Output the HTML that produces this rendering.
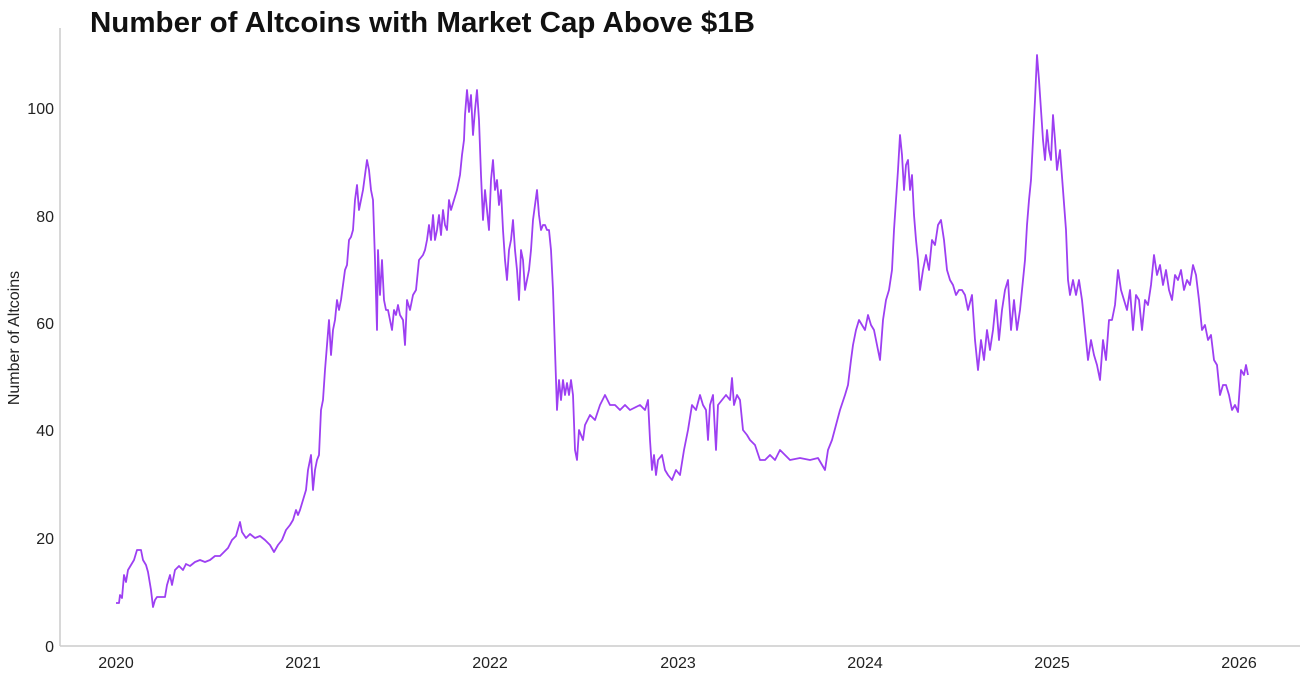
<!DOCTYPE html>
<html><head><meta charset="utf-8"><style>
html,body{margin:0;padding:0;background:#fff;width:1310px;height:675px;overflow:hidden}
svg{display:block;font-family:"Liberation Sans",sans-serif}
</style></head><body>
<svg width="1310" height="675" viewBox="0 0 1310 675">
<text x="90" y="32" font-size="29" font-weight="bold" fill="#111" textLength="665" lengthAdjust="spacingAndGlyphs">Number of Altcoins with Market Cap Above $1B</text>
<line x1="60" y1="28" x2="60" y2="646" stroke="#ccc" stroke-width="1.5"/>
<line x1="60" y1="646" x2="1300" y2="646" stroke="#ccc" stroke-width="1.5"/>
<g font-size="16" fill="#222" text-anchor="end">
<text x="54" y="652">0</text><text x="54" y="544">20</text><text x="54" y="436">40</text>
<text x="54" y="329">60</text><text x="54" y="222">80</text><text x="54" y="114">100</text>
</g>
<g font-size="16" fill="#222" text-anchor="middle">
<text x="116" y="668">2020</text><text x="303" y="668">2021</text><text x="490" y="668">2022</text>
<text x="678" y="668">2023</text><text x="865" y="668">2024</text><text x="1052" y="668">2025</text><text x="1239" y="668">2026</text>
</g>
<text transform="translate(19,338) rotate(-90)" font-size="16" fill="#222" text-anchor="middle">Number of Altcoins</text>
<polyline fill="none" stroke="#9d3ff2" stroke-width="1.8" stroke-linejoin="round" points="
116,603 119,603 120,595 122,598 124,575 126,582 128,570 131,565 134,560 137,550 141,550 143,560 146,565 148,572 151,590 153,607 155,600 157,597 160,597 165,597 167,585 170,575 172,585 175,570 179,566 183,570 186,564 190,566 195,562 200,560 205,562 210,560 215,556 220,556 228,548 232,540 236,536 240,522 242,532 246,538 250,534 255,538 260,536 265,540 270,545 274,552 278,545 282,540 286,530 290,525 293,520 296,510 298,515 300,510 303,500 306,490 308,470 311,455 313,490 315,470 317,460 319,455 321,410 323,400 325,370 327,345 329,320 331,355 333,330 335,320 337,300 339,310 341,300 343,285 345,270 347,265 349,240 351,237 353,230 355,200 357,185 359,210 361,200 363,190 365,175 367,160 369,170 371,190 373,200 375,260 377,330 378,250 380,295 382,260 384,300 386,310 388,310 390,320 392,330 394,310 396,315 398,305 400,315 403,320 405,345 407,300 410,310 413,295 416,290 419,260 423,255 425,250 427,240 429,225 431,240 433,215 435,240 437,230 439,215 441,235 443,210 445,225 447,230 449,200 451,210 454,200 457,190 460,175 462,155 464,140 465,115 467,90 469,112 471,95 473,135 475,110 477,90 479,120 481,175 483,220 485,190 487,210 489,230 491,180 493,160 495,190 497,180 499,205 501,190 503,230 505,260 507,280 509,250 511,240 513,220 515,250 517,270 519,300 521,250 523,260 525,290 527,280 529,270 531,250 533,220 535,205 537,190 539,215 541,230 543,225 545,225 547,230 549,230 551,250 553,290 555,350 557,410 559,380 561,400 563,380 565,395 567,383 569,395 571,380 573,395 575,450 577,460 579,430 583,440 585,425 590,415 595,420 600,405 605,395 610,405 615,405 620,410 625,405 630,410 640,405 645,410 648,400 650,440 652,470 654,455 656,475 658,460 662,455 665,470 668,475 672,480 676,470 680,475 684,450 688,430 692,405 696,410 700,395 703,405 706,410 708,440 710,405 713,395 716,450 718,405 722,400 726,395 730,400 732,378 734,405 737,395 740,400 743,430 747,435 750,440 755,445 760,460 765,460 770,455 775,460 780,450 785,455 790,460 800,458 810,460 818,458 825,470 828,450 832,440 836,425 840,410 845,395 848,385 851,360 853,345 856,330 859,320 862,325 865,330 868,315 871,325 874,330 877,345 880,360 883,320 886,300 889,290 892,270 894,230 896,200 898,170 900,135 902,155 904,190 906,165 908,160 910,190 912,175 914,215 916,240 918,260 920,290 923,270 926,255 929,270 932,240 935,245 938,225 941,220 944,240 947,270 950,280 953,285 956,295 959,290 962,290 965,295 968,310 972,295 975,340 978,370 981,340 984,360 987,330 990,350 993,330 996,300 999,340 1002,310 1005,290 1008,280 1011,330 1014,300 1017,330 1020,310 1023,280 1025,260 1027,225 1029,200 1031,180 1033,140 1035,100 1037,55 1039,80 1041,110 1043,140 1045,160 1047,130 1049,150 1051,160 1053,115 1055,140 1057,170 1060,150 1063,190 1066,230 1068,280 1070,295 1073,280 1076,295 1079,280 1082,300 1085,330 1088,360 1091,340 1094,355 1097,365 1100,380 1103,340 1106,360 1109,320 1112,320 1115,305 1118,270 1121,290 1124,300 1127,310 1130,290 1133,330 1136,295 1139,300 1142,330 1145,300 1148,305 1151,285 1154,255 1157,275 1160,265 1163,285 1166,270 1169,290 1172,300 1175,275 1178,280 1181,270 1184,290 1187,280 1190,285 1193,265 1196,275 1199,300 1202,330 1205,325 1208,340 1211,335 1214,360 1217,365 1220,395 1223,385 1226,385 1229,395 1232,410 1235,405 1238,412 1241,370 1244,375 1246,365 1248,375"/>
</svg>
</body></html>
